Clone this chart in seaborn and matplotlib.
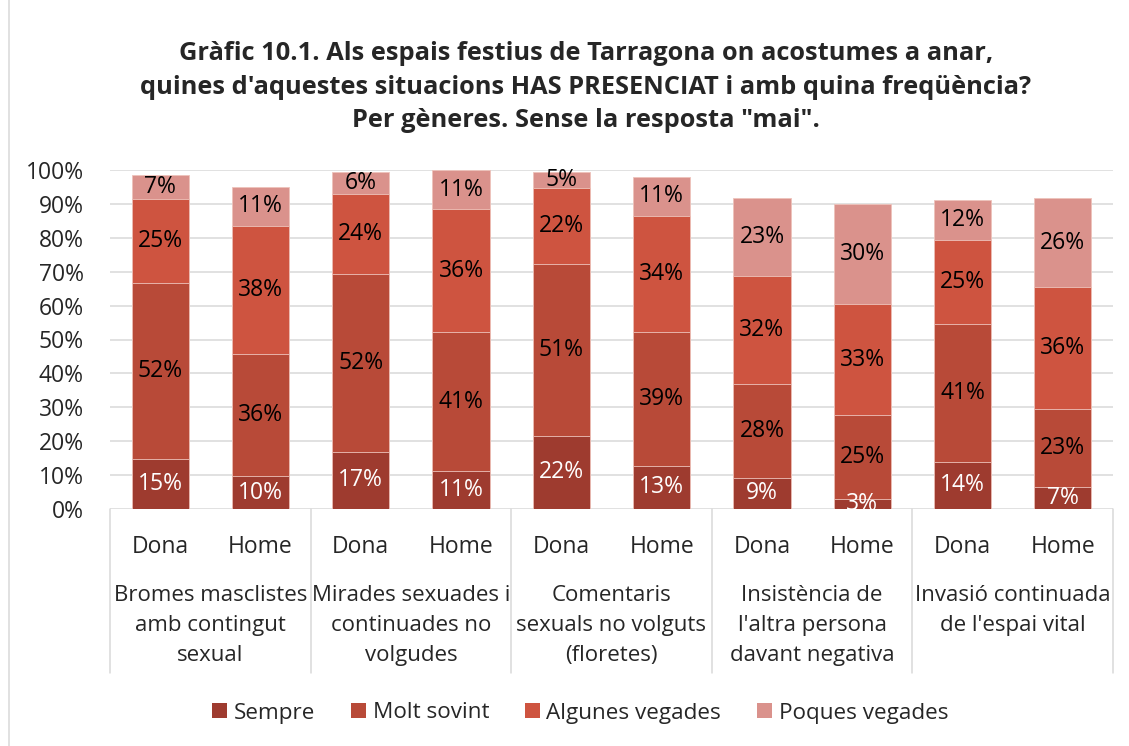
import matplotlib
matplotlib.use("Agg")
import matplotlib.pyplot as plt
import numpy as np
import pandas as pd
import seaborn as sns
from matplotlib.patches import Patch, Rectangle

sns.set_style("white")
plt.rcParams["font.family"] = ["Open Sans", "DejaVu Sans"]

TITLE = ("Gràfic 10.1. Als espais festius de Tarragona on acostumes a anar,\n"
         "quines d'aquestes situacions HAS PRESENCIAT i amb quina freqüència?\n"
         "Per gèneres. Sense la resposta \"mai\".")

categories = [
    "Bromes masclistes\namb contingut\nsexual",
    "Mirades sexuades i\ncontinuades no\nvolgudes",
    "Comentaris\nsexuals no volguts\n(floretes)",
    "Insistència de\nl'altra persona\ndavant negativa",
    "Invasió continuada\nde l'espai vital",
]
genders = ["Dona", "Home"]
series = ["Sempre", "Molt sovint", "Algunes vegades", "Poques vegades"]
colors = ["#9e3b2f", "#b84a38", "#ce5440", "#da928c"]

# one value per bar: Dona/Home for each category, in order
sempre = [14.7, 9.6, 16.9, 11.3, 21.6, 12.7, 9.2, 3.0, 13.9, 6.6]
molt_sovint = [51.9, 36.2, 52.4, 40.8, 50.8, 39.4, 27.7, 24.6, 40.7, 22.8]
algunes = [24.8, 37.8, 23.6, 36.4, 22.4, 34.4, 31.8, 32.8, 24.7, 36.0]
poques = [7.1, 11.3, 6.4, 11.4, 4.7, 11.4, 23.0, 29.7, 11.8, 26.4]

bar_ids = [f"{c}|{g}" for c in range(len(categories)) for g in genders]
df = pd.DataFrame({
    "bar": bar_ids,
    "Sempre": sempre,
    "Molt sovint": molt_sovint,
    "Algunes vegades": algunes,
    "Poques vegades": poques,
})
cum = df[series].cumsum(axis=1)

FS = 16.5

fig = plt.figure(figsize=(11.29, 7.46), dpi=100)
ax = fig.add_axes([110 / 1129, 237 / 746, 1003 / 1129, 339 / 746])

# stacked bars: draw cumulative totals from the top series down
for name, color in reversed(list(zip(series, colors))):
    sns.barplot(x=df["bar"], y=cum[name], order=bar_ids, color=color,
                saturation=1, width=0.57, edgecolor="#eec3bb", linewidth=0.6,
                ax=ax, zorder=3)

# value labels
for i in range(len(df)):
    bottom = 0.0
    for k, name in enumerate(series):
        v = df.loc[i, name]
        ax.text(i, bottom + v / 2, f"{int(v + 0.5)}%", ha="center", va="center",
                fontsize=FS, color="white" if k == 0 else "black", zorder=5)
        bottom += v

ax.set_xlim(-0.5, len(df) - 0.5)
ax.set_ylim(0, 100)
ax.set_yticks(np.arange(0, 101, 10))
ax.set_yticklabels([f"{t}%" for t in range(0, 101, 10)])
ax.set_xticks(range(len(df)))
ax.set_xticklabels([g for _ in categories for g in genders])
ax.set_xlabel("")
ax.set_ylabel("")
ax.tick_params(axis="y", length=0, pad=19, labelsize=FS)
ax.tick_params(axis="x", length=0, pad=19, labelsize=FS)
ax.yaxis.grid(True, color="#d9d9d9", linewidth=1.1, zorder=0)
ax.set_axisbelow(True)
for s in ax.spines.values():
    s.set_visible(False)

# group labels and separators under the axis
trans = ax.get_xaxis_transform()
for g, cat in enumerate(categories):
    ax.text(2 * g + 0.5, -0.225, cat, transform=trans, ha="center", va="top",
            fontsize=16, linespacing=1.55)
for xsep in np.arange(-0.5, len(df), 2):
    ax.plot([xsep, xsep], [0, -0.484], transform=trans, color="#d9d9d9",
            linewidth=1.1, clip_on=False)

fig.text(0.519, 1 - 87 / 746, TITLE, ha="center", va="center", fontsize=18.3,
         fontweight="bold", linespacing=1.45)

handles = [Patch(facecolor=c, edgecolor="none") for c in colors]
fig.legend(handles, series, loc="center", bbox_to_anchor=(0.514, 1 - 713 / 746),
           ncol=4, frameon=False, fontsize=16.2, handlelength=0.65, handleheight=0.65,
           handletextpad=0.3, columnspacing=1.6)

fig.patches.append(Rectangle((9 / 1129, -0.05), 1.2, 1.2, transform=fig.transFigure,
                             fill=False, edgecolor="#d9d9d9", linewidth=1.1))

fig.savefig("out.png", dpi=100)
